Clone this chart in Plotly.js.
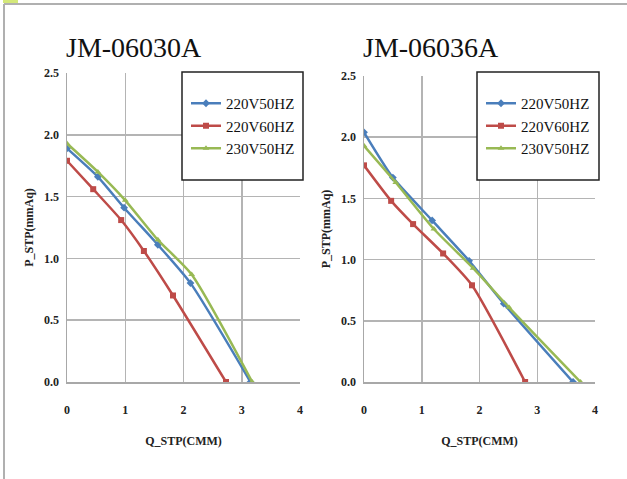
<!DOCTYPE html>
<html>
<head>
<meta charset="utf-8">
<script src="https://cdn.plot.ly/plotly-3.0.1.min.js"></script>
<style>
html,body{margin:0;padding:0;background:#fff;}
#chart{width:627px;height:479px;}
</style>
</head>
<body>
<div id="chart"></div>
<script>
// ---- Data ----
const seriesNames = ["220V50HZ", "220V60HZ", "230V50HZ"];
const chartTitles = ["JM-06030A", "JM-06036A"];

// JM-06030A
const a_q_220v50 = [0, 0.53, 0.98, 1.56, 2.12, 3.15];
const a_p_220v50 = [1.89, 1.66, 1.41, 1.11, 0.80, 0];
const a_q_220v60 = [0, 0.45, 0.93, 1.32, 1.82, 2.73];
const a_p_220v60 = [1.79, 1.56, 1.31, 1.06, 0.70, 0];
const a_q_230v50 = [0, 0.53, 1.00, 1.56, 2.14, 3.18];
const a_p_230v50 = [1.93, 1.70, 1.47, 1.15, 0.87, 0];

// JM-06036A
const b_q_220v50 = [0, 0.50, 1.18, 1.82, 2.42, 3.62];
const b_p_220v50 = [2.04, 1.67, 1.32, 0.99, 0.64, 0];
const b_q_220v60 = [0, 0.47, 0.85, 1.37, 1.87, 2.79];
const b_p_220v60 = [1.77, 1.48, 1.29, 1.05, 0.79, 0];
const b_q_230v50 = [0, 0.55, 1.21, 1.89, 2.51, 3.75];
const b_p_230v50 = [1.93, 1.63, 1.25, 0.93, 0.61, 0];

const xTickVals = [0, 1, 2, 3, 4];
const yTickVals = [0, 0.5, 1.0, 1.5, 2.0, 2.5];
const xTitle = "Q_STP(CMM)";
const yTitle = "P_STP(mmAq)";

// ---- Styles ----
const colors = ["#4a7ebb", "#be4b48", "#98b954"];
const symbols = ["diamond", "square", "triangle-up"];
const W = 627, H = 479;
const px = v => v / W;
const py = v => 1 - v / H;
const serif = "Liberation Serif";

function mk(x, y, i, xa, ya, lg) {
  return {
    x: x, y: y, name: seriesNames[i], type: "scatter", mode: "lines+markers",
    xaxis: xa, yaxis: ya, legend: lg,
    line: {color: colors[i], width: 2.5, shape: "spline", smoothing: 0.6},
    marker: {color: colors[i], symbol: symbols[i], size: 6}
  };
}

const data = [
  mk(a_q_220v50, a_p_220v50, 0, "x", "y", "legend"),
  mk(a_q_220v60, a_p_220v60, 1, "x", "y", "legend"),
  mk(a_q_230v50, a_p_230v50, 2, "x", "y", "legend"),
  mk(b_q_220v50, b_p_220v50, 0, "x2", "y2", "legend2"),
  mk(b_q_220v60, b_p_220v60, 1, "x2", "y2", "legend2"),
  mk(b_q_230v50, b_p_230v50, 2, "x2", "y2", "legend2")
];

const tickFont = {family: serif, size: 12, color: "#222", weight: "bold"};
const titleFont = {family: serif, size: 12, color: "#222", weight: "bold"};

function xax(dom, anchor) {
  return {
    domain: dom, anchor: anchor, range: [0, 4], tickvals: xTickVals,
    showgrid: true, gridcolor: "#b4b4b4", gridwidth: 1.5,
    zeroline: false, showline: true, linecolor: "#a8a8a8", linewidth: 1.5,
    ticks: "", ticklabelstandoff: 16, tickfont: tickFont,
    title: {text: xTitle, font: titleFont, standoff: 20}, fixedrange: true
  };
}
function yax(dom, anchor) {
  return {
    domain: dom, anchor: anchor, range: [0, 2.5], tickvals: yTickVals, tickformat: ".1f",
    showgrid: true, gridcolor: "#b4b4b4", gridwidth: 1.5,
    zeroline: false, showline: true, linecolor: "#a8a8a8", linewidth: 1.5,
    ticks: "", ticklabelstandoff: 4, tickfont: tickFont,
    title: {text: yTitle, font: titleFont, standoff: 8}, fixedrange: true
  };
}

const legendFont = {family: serif, size: 15, color: "#111"};

const layout = {
  width: W, height: H,
  margin: {l: 0, r: 0, t: 0, b: 0},
  paper_bgcolor: "#fff", plot_bgcolor: "#fff",
  showlegend: true,
  font: {family: serif},
  xaxis: xax([px(67), px(300)], "y"),
  yaxis: yax([py(382), py(73)], "x"),
  xaxis2: xax([px(364), px(595)], "y2"),
  yaxis2: yax([py(382), py(76)], "x2"),
  legend: {x: px(186), y: py(87), xanchor: "left", yanchor: "top",
           bgcolor: "rgba(0,0,0,0)", borderwidth: 0, font: legendFont, tracegroupgap: 0},
  legend2: {x: px(481), y: py(87), xanchor: "left", yanchor: "top",
            bgcolor: "rgba(0,0,0,0)", borderwidth: 0, font: legendFont, tracegroupgap: 0},
  annotations: [
    {text: chartTitles[0], xref: "paper", yref: "paper", x: px(134), y: py(47),
     xanchor: "center", yanchor: "middle", showarrow: false,
     font: {family: serif, size: 28, color: "#111"}},
    {text: chartTitles[1], xref: "paper", yref: "paper", x: px(431), y: py(47),
     xanchor: "center", yanchor: "middle", showarrow: false,
     font: {family: serif, size: 28, color: "#111"}}
  ],
  shapes: [
    {type: "rect", xref: "paper", yref: "paper", x0: px(182), x1: px(303), y0: py(180), y1: py(72),
     line: {color: "#222", width: 1.5}, fillcolor: "#fff", layer: "above"},
    {type: "rect", xref: "paper", yref: "paper", x0: px(477), x1: px(599), y0: py(180), y1: py(72),
     line: {color: "#222", width: 1.5}, fillcolor: "#fff", layer: "above"},
    {type: "line", xref: "paper", yref: "paper", x0: px(4), x1: px(4), y0: py(4), y1: py(479),
     line: {color: "#b0b0b0", width: 2}},
    {type: "line", xref: "paper", yref: "paper", x0: px(4), x1: px(627), y0: py(4), y1: py(4),
     line: {color: "#b0b0b0", width: 2}},
    {type: "rect", xref: "paper", yref: "paper", x0: px(3), x1: px(18), y0: py(3), y1: py(0),
     line: {width: 0}, fillcolor: "#d4e87a"}
  ]
};

Plotly.newPlot("chart", data, layout, {displayModeBar: false, staticPlot: true});
</script>
</body>
</html>
